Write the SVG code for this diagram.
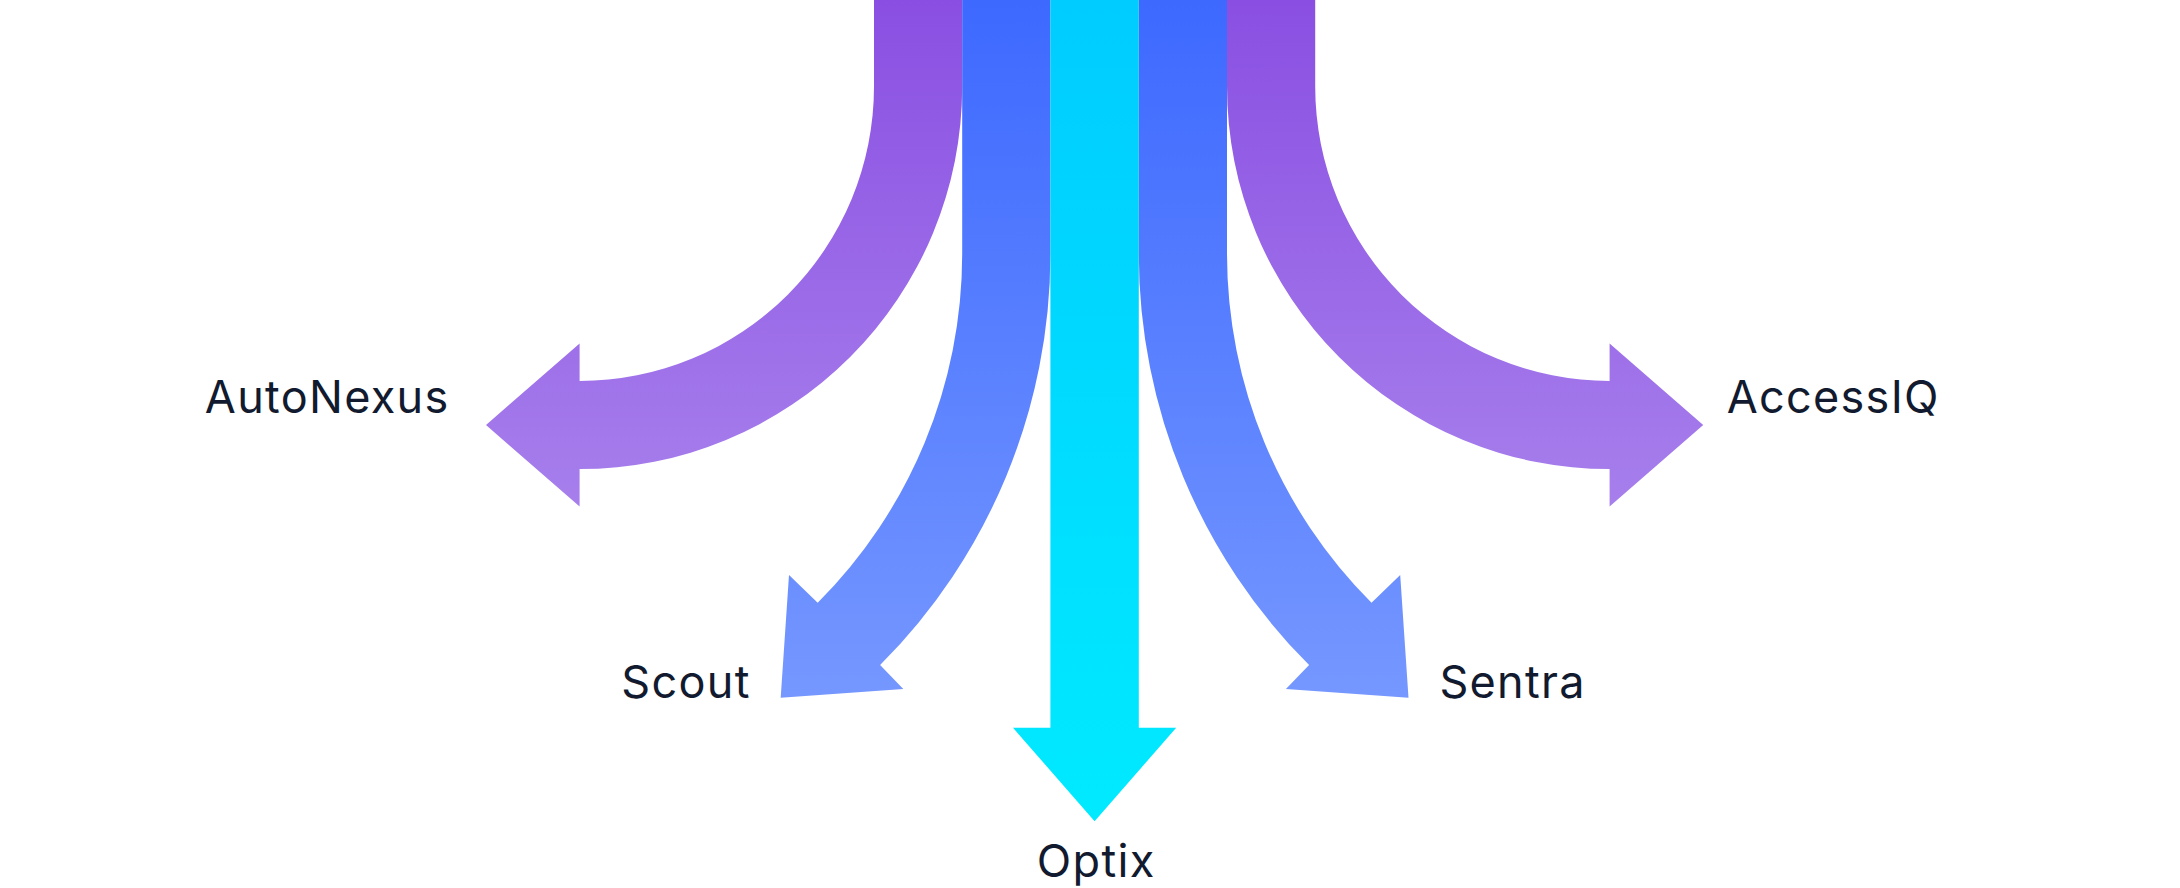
<svg xmlns="http://www.w3.org/2000/svg" width="2180" height="888" viewBox="0 0 2180 888">
  <defs>
    <linearGradient id="gPurple" gradientUnits="userSpaceOnUse" x1="0" y1="0" x2="0" y2="507">
      <stop offset="0" stop-color="#8A4FE2"/>
      <stop offset="1" stop-color="#A77FEC"/>
    </linearGradient>
    <linearGradient id="gBlue" gradientUnits="userSpaceOnUse" x1="0" y1="0" x2="0" y2="698">
      <stop offset="0" stop-color="#3D69FF"/>
      <stop offset="1" stop-color="#7597FF"/>
    </linearGradient>
    <linearGradient id="gCyan" gradientUnits="userSpaceOnUse" x1="0" y1="0" x2="0" y2="822">
      <stop offset="0" stop-color="#00CCFF"/>
      <stop offset="1" stop-color="#00EAFF"/>
    </linearGradient>
  </defs>
  <style>
    .label { font-family: Inter, "Liberation Sans", sans-serif; font-size: 45px; font-weight: 400; letter-spacing: 1.3px; fill: #111A2E; text-anchor: middle; }
  </style>
  <rect width="2180" height="888" fill="#FFFFFF"/>
  <g id="connectors">
    <path id="arrow-autonexus" fill="url(#gPurple)" d="M 874 0 L 874 86.5 A 294.4 294.4 0 0 1 579.6 380.9 L 579.6 343.5 L 486 425 L 579.6 506.5 L 579.6 469.1 A 382.6 382.6 0 0 0 962.2 86.5 L 962.2 0 Z"/>
    <path id="arrow-accessiq" fill="url(#gPurple)" d="M 1315.2 0 L 1315.2 86.5 A 294.4 294.4 0 0 0 1609.6 380.9 L 1609.6 343.5 L 1703.2 425 L 1609.6 506.5 L 1609.6 469.1 A 382.6 382.6 0 0 1 1227 86.5 L 1227 0 Z"/>
    <path id="arrow-scout" fill="url(#gBlue)" d="M 962.2 0 L 962.2 253.9 A 493.3 493.3 0 0 1 817.7 602.7 L 789 575 L 780.7 697.7 L 903.3 689 L 880.1 665.1 A 581.5 581.5 0 0 0 1050.4 253.9 L 1050.4 0 Z"/>
    <path id="arrow-sentra" fill="url(#gBlue)" d="M 1227 0 L 1227 253.9 A 493.3 493.3 0 0 0 1371.5 602.7 L 1400.2 575 L 1408.5 697.7 L 1285.9 689 L 1309.1 665.1 A 581.5 581.5 0 0 1 1138.8 253.9 L 1138.8 0 Z"/>
    <path id="arrow-optix" fill="url(#gCyan)" d="M 1050.4 0 L 1050.4 727.7 L 1013 727.7 L 1094.6 821.3 L 1176.2 727.7 L 1138.8 727.7 L 1138.8 0 Z"/>
  </g>
  <g id="node-autonexus"><text class="label" x="327.2" y="413">AutoNexus</text></g>
  <g id="node-accessiq"><text class="label" x="1833.2" y="413">AccessIQ</text></g>
  <g id="node-scout"><text class="label" x="686" y="697.7">Scout</text></g>
  <g id="node-sentra"><text class="label" x="1512.6" y="697.7">Sentra</text></g>
  <g id="node-optix"><text class="label" x="1096.2" y="876.7">Optix</text></g>
</svg>
